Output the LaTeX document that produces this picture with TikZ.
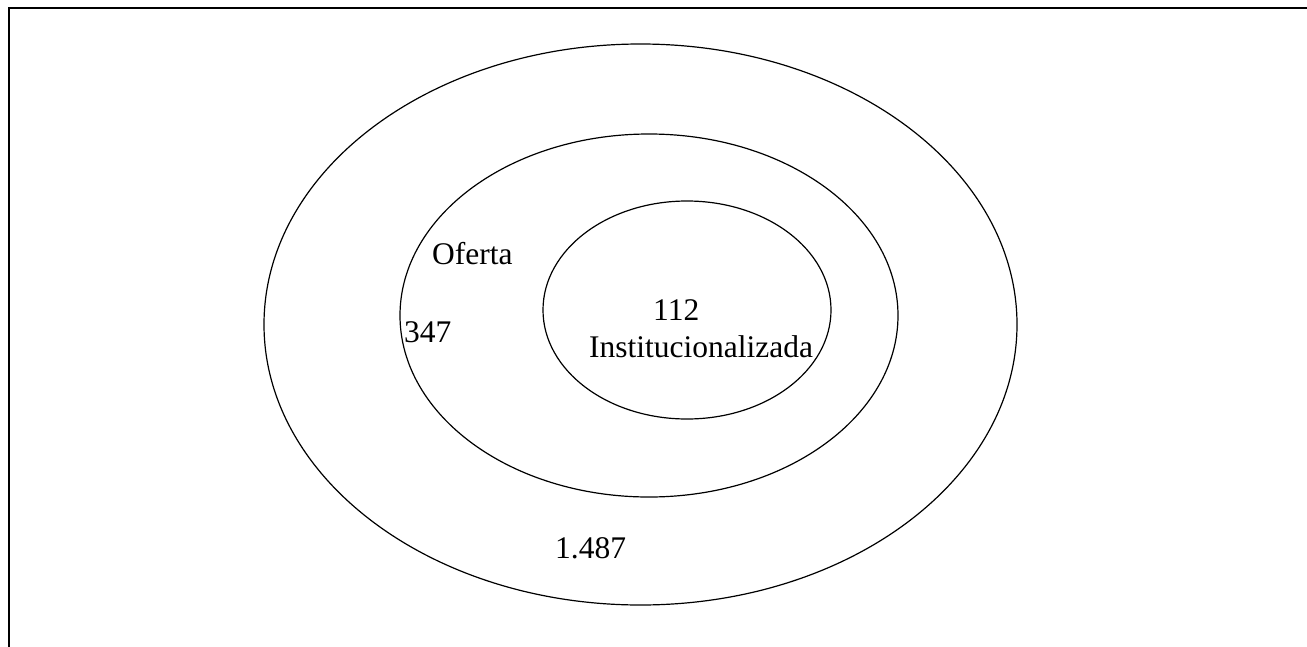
\documentclass[tikz,border=0pt]{standalone}
\usepackage{fontspec}
\setmainfont{Liberation Serif}
\begin{document}
\begin{tikzpicture}[x=1pt,y=-1pt,
  ring/.style={draw=black,line width=1.2pt},
  lbl/.style={inner sep=0pt,anchor=base west,font=\fontsize{31.5}{33}\selectfont}]
\useasboundingbox (0,0) rectangle (1307,646);
\draw[line width=2pt] (9,660) coordinate (bl) -- (9,8) coordinate (tl) -- (1320,8) coordinate (tr);
\draw[ring] (640.5,324.5) ellipse [x radius=376.5, y radius=280.5];
\draw[ring] (649,315.5) ellipse [x radius=249, y radius=181.5];
\draw[ring] (687,310) ellipse [x radius=144, y radius=109];
\node[lbl] (oferta) at (432,264) {Oferta};
\node[lbl] (n347) at (404,342) {347};
\node[lbl] (n112) at (653,320) {112};
\node[lbl] (inst) at (589,357) {Institucionalizada};
\node[lbl] (n1487) at (555,558) {1.487};
\end{tikzpicture}
\end{document}
